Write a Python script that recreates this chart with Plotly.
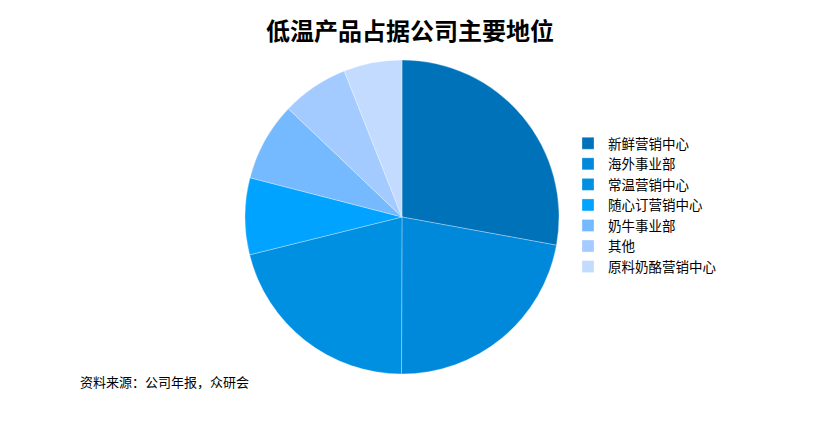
import plotly.graph_objects as go

labels = ['新鲜营销中心', '海外事业部', '常温营销中心', '随心订营销中心', '奶牛事业部', '其他', '原料奶酪营销中心']
values = [27.9, 22.2, 21.1, 7.9, 8.1, 6.9, 6.0]
colors = ['#0072B9', '#0088DA', '#0090E2', '#00A3FF', '#75B9FF', '#A3CBFF', '#C3DBFF']

W, H = 813, 430
# page has an 8px body margin, so positions below are in figure pixels
cx, cy, r = 394, 209, 157

fig = go.Figure(go.Pie(
    labels=labels,
    values=values,
    sort=False,
    direction='clockwise',
    rotation=0,
    textinfo='none',
    hoverinfo='label+percent',
    marker=dict(colors=colors, line=dict(color='rgba(255,255,255,0.6)', width=0.5)),
    domain=dict(x=[(cx - r) / W, (cx + r) / W], y=[1 - (cy + r) / H, 1 - (cy - r) / H]),
))

fig.update_layout(
    width=W, height=H,
    margin=dict(l=0, r=0, t=0, b=0),
    paper_bgcolor='white',
    font=dict(family='Noto Sans CJK SC', color='#000000', size=13),
    title=dict(text='<b>低温产品占据公司主要地位</b>', x=402 / W, xanchor='center',
               y=1 - 24 / H, yanchor='middle', font=dict(size=24, color='#000000')),
    legend=dict(x=560 / W, xanchor='left', y=1 - 120 / H, yanchor='top',
                font=dict(size=13.5), bgcolor='rgba(0,0,0,0)'),
    annotations=[dict(text='资料来源：公司年报，众研会', x=70 / W, y=1 - 373 / H,
                      xref='paper', yref='paper', xanchor='left', yanchor='middle',
                      showarrow=False, font=dict(size=13))],
)

fig.write_html("out.html")
